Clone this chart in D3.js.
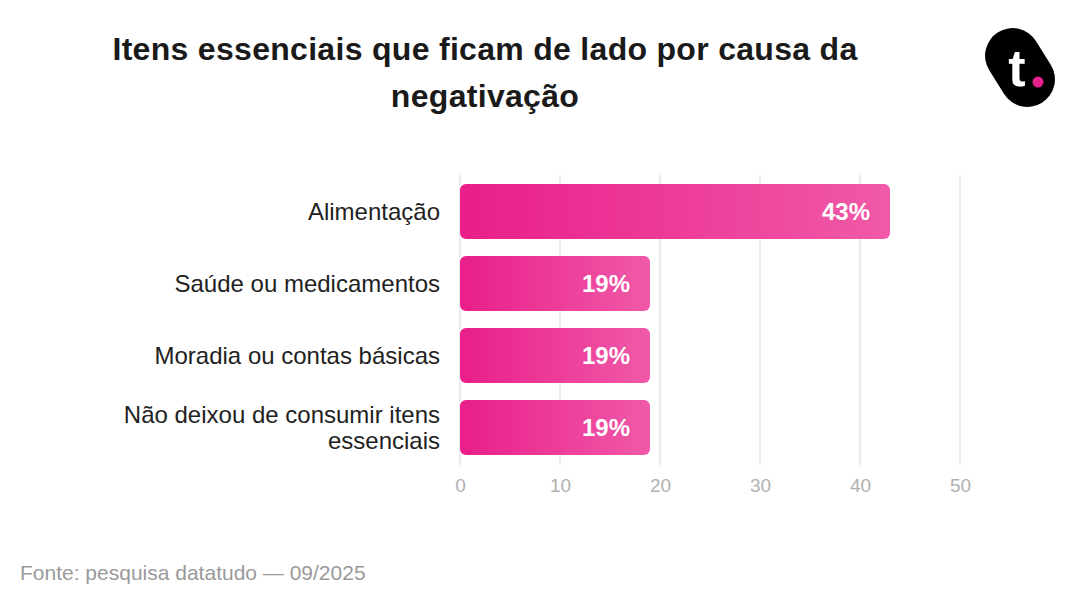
<!DOCTYPE html>
<html><head><meta charset="utf-8">
<script src="https://cdn.jsdelivr.net/npm/d3@7"></script>
<style>body{margin:0;background:#fff}svg{display:block;font-family:"Liberation Sans",Arial,sans-serif}</style>
</head><body>
<svg id="c" width="1080" height="612"></svg>
<script>
const categories = [["Alimentação"],["Saúde ou medicamentos"],["Moradia ou contas básicas"],["Não deixou de consumir itens","essenciais"]];
const values = [43, 19, 19, 19];
const ticks = [0, 10, 20, 30, 40, 50];
const titleLines = ["Itens essenciais que ficam de lado por causa da", "negativação"];
const source = "Fonte: pesquisa datatudo — 09/2025";

const svg = d3.select("#c");
const defs = svg.append("defs");
const g = defs.append("linearGradient").attr("id","bg").attr("x1","0").attr("x2","1").attr("y1","0").attr("y2","0");
g.append("stop").attr("offset","0").attr("stop-color","#e91e8a");
g.append("stop").attr("offset","1").attr("stop-color","#f05aa8");

const x = d3.scaleLinear().domain([0,50]).range([460,960]);
const y = d3.scaleBand().domain(d3.range(categories.length)).range([175.5,463.5]).paddingInner(0.236).paddingOuter(0.118);

// grid
svg.append("g").selectAll("line").data(ticks).join("line")
  .attr("x1",d=>x(d)).attr("x2",d=>x(d)).attr("y1",175).attr("y2",465)
  .attr("stroke","#e6e6e6").attr("stroke-width",1.5);

// axis labels
const ax = svg.append("g").attr("transform","translate(0,467)").call(d3.axisBottom(x).tickValues(ticks).tickSize(0).tickPadding(12));
ax.select(".domain").remove();
ax.selectAll("text").attr("fill","#b0b0b0").attr("font-size",19).attr("font-family","Liberation Sans, Arial, sans-serif");

// bars
svg.append("g").selectAll("rect").data(values).join("rect")
  .attr("x",x(0)).attr("y",(d,i)=>y(i)).attr("width",d=>x(d)-x(0)).attr("height",y.bandwidth())
  .attr("rx",6).attr("fill","url(#bg)");

// value labels
svg.append("g").selectAll("text").data(values).join("text")
  .attr("x",d=>x(d)-20).attr("y",(d,i)=>y(i)+y.bandwidth()/2).attr("dy","0.36em")
  .attr("text-anchor","end").attr("fill","#fff").attr("font-weight","bold").attr("font-size",24)
  .text(d=>d+"%");

// category labels
svg.append("g").selectAll("text").data(categories).join("text")
  .attr("text-anchor","end").attr("fill","#222").attr("font-size",24)
  .attr("transform",(d,i)=>`translate(440,${y(i)+y.bandwidth()/2})`)
  .each(function(d){
    const t=d3.select(this);
    const lh=26, off=-(d.length-1)*lh/2;
    d.forEach((s,k)=>t.append("tspan").attr("x",0).attr("y",off+k*lh).attr("dy","0.36em").text(s));
  });

// title
svg.append("g").selectAll("text").data(titleLines).join("text")
  .attr("x",485).attr("y",(d,i)=>60+i*47).attr("text-anchor","middle")
  .attr("font-weight","bold").attr("font-size",32).attr("letter-spacing",0.3).attr("fill","#1a1a1a").text(d=>d);

// source
svg.append("text").attr("x",20).attr("y",580).attr("fill","#9a9a9a").attr("font-size",21).text(source);

// logo
const lg = svg.append("g").attr("transform","translate(1020,67.5)");
lg.append("rect").attr("x",-41.5).attr("y",-27.5).attr("width",83).attr("height",55).attr("rx",27.5)
  .attr("transform","rotate(58)").attr("fill","#000");
lg.append("text").attr("x",-3).attr("y",18).attr("text-anchor","middle").attr("fill","#fff")
  .attr("font-weight","bold").attr("font-size",52).attr("font-family","Liberation Sans, Arial, sans-serif").text("t");
lg.append("circle").attr("cx",18).attr("cy",14.5).attr("r",5.5).attr("fill","#e6218c");
</script>
</body></html>
